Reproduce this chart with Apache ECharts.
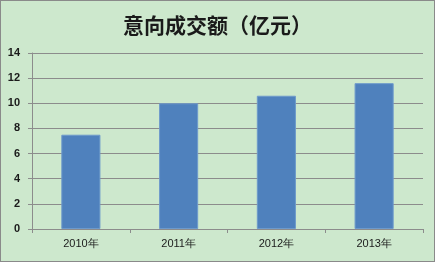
<!DOCTYPE html>
<html><head><meta charset="utf-8">
<script src="https://cdn.jsdelivr.net/npm/echarts@6/dist/echarts.min.js"></script>
<style>
html,body{margin:0;padding:0;}
#c{width:435px;height:262px;box-sizing:border-box;border:1px solid #8a8a8a;background:#cde8cd;}
</style></head>
<body><div id="c"></div>
<script>
const titleText = '意向成交额（亿元）';
const categories = ['2010年', '2011年', '2012年', '2013年'];
const values = [7.5, 10.0, 10.6, 11.6];
const yMin = 0, yMax = 14, yStep = 2;

const chart = echarts.init(document.getElementById('c'), null, {renderer: 'canvas'});
chart.setOption({
  backgroundColor: 'transparent',
  animation: false,
  title: {
    text: titleText, left: 'center', top: 9,
    textStyle: {fontFamily: 'Noto Sans CJK SC', fontSize: 21, fontWeight: 'bold', color: '#1a1a1a'}
  },
  grid: {left: 31, right: 11, top: 52, bottom: 32},
  xAxis: {
    type: 'category', data: categories,
    axisLine: {lineStyle: {color: '#8c8c8c', width: 1}},
    axisTick: {show: true, length: 4, alignWithLabel: false, lineStyle: {color: '#8c8c8c'}},
    axisLabel: {margin: 9, color: '#1a1a1a', fontSize: 11, fontFamily: 'Liberation Sans'}
  },
  yAxis: {
    type: 'value', min: yMin, max: yMax, interval: yStep,
    axisLine: {show: true, lineStyle: {color: '#8c8c8c', width: 1}},
    axisTick: {show: true, length: 4, lineStyle: {color: '#8c8c8c'}},
    axisLabel: {margin: 12, color: '#1a1a1a', fontSize: 11, fontFamily: 'Liberation Sans', fontWeight: 'bold'},
    splitLine: {show: true, lineStyle: {color: '#8c8c8c', width: 1}}
  },
  series: [{
    type: 'bar', data: values, barWidth: '40%',
    itemStyle: {color: '#4f81bd', borderColor: '#6e9acb', borderWidth: 1}
  }]
});
</script></body></html>
